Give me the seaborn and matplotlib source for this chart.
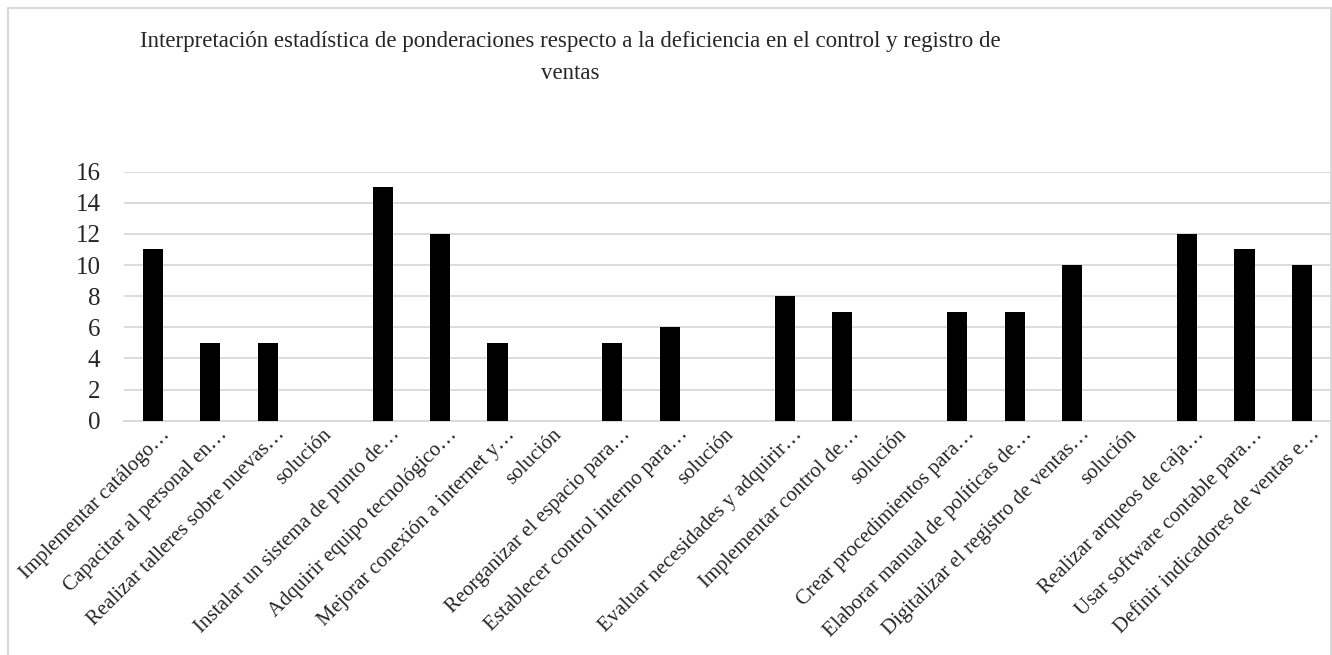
import numpy as np
import pandas as pd
import matplotlib
matplotlib.use("Agg")
import matplotlib.pyplot as plt
from matplotlib.patches import Rectangle
from matplotlib.transforms import ScaledTranslation
import seaborn as sns

titulo = ("Interpretación estadística de ponderaciones respecto a la deficiencia en el control y registro de\n"
          "ventas")

etiquetas = [
    "Implementar catálogo…",
    "Capacitar al personal en…",
    "Realizar talleres sobre nuevas…",
    "solución",
    "Instalar un sistema de punto de…",
    "Adquirir equipo tecnológico…",
    "Mejorar conexión a internet y…",
    "solución",
    "Reorganizar el espacio para…",
    "Establecer control interno para…",
    "solución",
    "Evaluar necesidades y adquirir…",
    "Implementar control de…",
    "solución",
    "Crear procedimientos para…",
    "Elaborar manual de políticas de…",
    "Digitalizar el registro de ventas…",
    "solución",
    "Realizar arqueos de caja…",
    "Usar software contable para…",
    "Definir indicadores de ventas e…",
]
valores = [11, 5, 5, 0, 15, 12, 5, 0, 5, 6, 0, 8, 7, 0, 7, 7, 10, 0, 12, 11, 10]
ticks_y = [0, 2, 4, 6, 8, 10, 12, 14, 16]

sns.set_theme(style="white")
plt.rcParams["font.family"] = ["Liberation Serif", "DejaVu Serif"]

df = pd.DataFrame({"pos": list(range(len(etiquetas))), "valor": valores})

fig = plt.figure(figsize=(13.32, 6.55), dpi=100)
ax = fig.add_axes([0.0931, 0.3577, 0.9059, 0.3802])

sns.barplot(data=df, x="pos", y="valor", color="black", saturation=1,
            width=0.35, linewidth=0, ax=ax, zorder=3)

ax.set_ylim(0, 16)
ax.set_yticks(ticks_y)
ax.set_yticklabels([str(t) for t in ticks_y], fontsize=18)
ax.set_xlim(-0.5, len(etiquetas) - 0.5)
ax.set_xticks(range(len(etiquetas)))
ax.set_xticklabels([])
ax.set_xlabel("")
ax.set_ylabel("")

# slanted category labels, anchored just right of each category position;
# truncated labels (ending in an ellipsis) sit a bit further right
for i, texto in enumerate(etiquetas):
    dx = 15 if texto.endswith("…") else 4
    trans = ax.get_xaxis_transform() + ScaledTranslation(dx / 100, -11 / 100,
                                                         fig.dpi_scale_trans)
    ax.text(i, 0, texto, transform=trans, rotation=45, ha="right", va="center",
            rotation_mode="anchor", fontsize=15, clip_on=False)

ax.grid(axis="y", color="#d9d9d9", linewidth=1.3, zorder=0)
ax.grid(axis="x", visible=False)
for lado in ["top", "right", "left"]:
    ax.spines[lado].set_visible(False)
ax.spines["bottom"].set_color("#d9d9d9")
ax.spines["bottom"].set_linewidth(1.3)
ax.tick_params(axis="both", length=0)
ax.tick_params(axis="y", pad=17)

fig.text(570 / 1332, 1 - 31 / 655, titulo, ha="center", va="top",
         fontsize=16.5, linespacing=1.7)

fig.patches.append(Rectangle((7.5 / 1332, -0.05), (1331 - 7.5) / 1332, 1.05 - 8.5 / 655,
                             transform=fig.transFigure, fill=False,
                             edgecolor="#d9d9d9", linewidth=1.5))

fig.savefig("out.png", dpi=100, facecolor="white")
